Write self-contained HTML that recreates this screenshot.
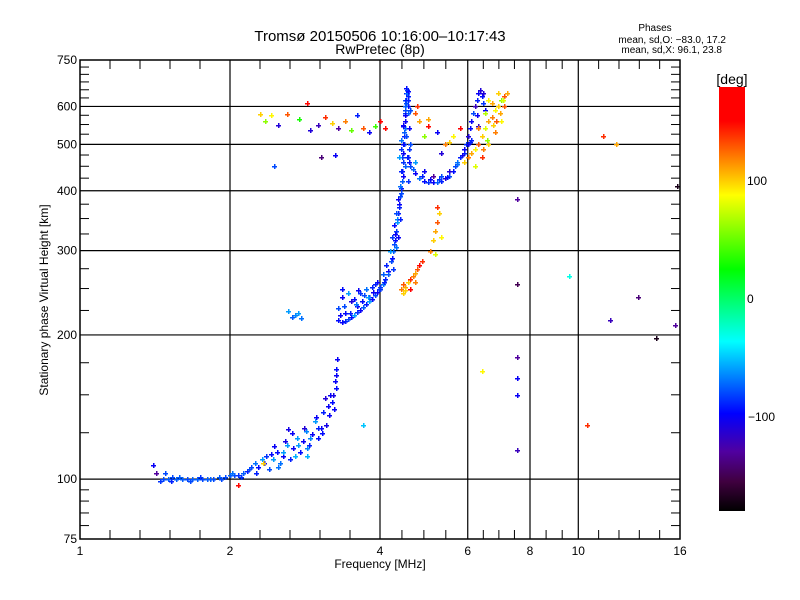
<!DOCTYPE html>
<html><head><meta charset="utf-8"><style>
body{margin:0;background:#fff;}
svg{display:block;font-family:"Liberation Sans",sans-serif;}
</style></head><body>
<svg id="chart" width="800" height="600" viewBox="0 0 800 600">
<defs>
<linearGradient id="cbar" x1="0" y1="0" x2="0" y2="1">
<stop offset="0" stop-color="#ff0000"/><stop offset="0.08" stop-color="#ff0000"/>
<stop offset="0.19" stop-color="#ffa000"/><stop offset="0.255" stop-color="#ffff00"/>
<stop offset="0.43" stop-color="#00ff00"/><stop offset="0.6" stop-color="#00ffff"/>
<stop offset="0.77" stop-color="#0000ff"/><stop offset="0.86" stop-color="#5000a0"/>
<stop offset="0.93" stop-color="#400040"/><stop offset="1" stop-color="#000000"/>
</linearGradient>
</defs>
<text x="380" y="41" font-size="15" text-anchor="middle">Tromsø 20150506 10:16:00–10:17:43</text>
<text x="380" y="54" font-size="14" text-anchor="middle">RwPretec (8p)</text>
<text x="655" y="31" font-size="10" text-anchor="middle">Phases</text>
<text x="726" y="43" font-size="10" text-anchor="end">mean, sd,O: −83.0, 17.2</text>
<text x="722" y="53" font-size="10" text-anchor="end">mean, sd,X:  96.1, 23.8</text>
<g id="grid"></g>
<g id="marks"></g>
<g id="axes"></g>
<text x="380" y="568" font-size="12" text-anchor="middle">Frequency [MHz]</text>
<text transform="translate(48,300) rotate(-90)" font-size="12" text-anchor="middle">Stationary phase Virtual Height [km]</text>
<rect x="719" y="87" width="26" height="424" fill="url(#cbar)"/>
<text x="732" y="84" font-size="14" text-anchor="middle">[deg]</text>
<g id="cbticks"></g>
</svg>
<script>
// axis tick data
const xMajor = [1,2,4,6,8,10,16];
const yMajor = [75,100,200,300,400,500,600,750];
const yMinor = [80,85,90,95,125,150,175,225,250,275,325,350,375,425,450,475,525,550,575,625,650,675,700,725];
const cbTicks = [100,0,-100];

// Series A: lower trace
const aF = [1.45,1.47,1.50,1.53,1.56,1.60,1.64,1.68,1.72,1.76,1.80,1.85,1.90,1.95,2.00,2.04,2.08,2.12,2.16,2.20,2.24,2.28,2.32,2.36,2.40,2.44,2.48,2.52,2.56,2.60,2.64,2.68,2.72,2.76,2.80,2.84,2.88,2.92,2.96,3.00,3.04,3.08,3.12,3.16,3.20,3.24,3.26,3.27,3.28,2.62,2.70,2.78,2.66,2.74,1.48,1.52,2.86,3.18];
const aH = [99,100,100,101,100,100,100,100,100,100,100,100,101,101,102,102,102,103,104,106,108,106,110,112,105,110,114,108,112,118,110,116,122,114,120,126,118,124,132,122,128,138,130,136,145,140,155,165,178,224,220,217,218,222,103,99,112,150];
const aP = [-85,-80,-75,-80,-75,-75,-80,-75,-75,-80,-75,-80,-75,-80,-75,-80,-85,-75,-90,-80,-70,-95,-60,-85,-80,-60,-95,-70,-100,-60,-90,-100,-60,-95,-100,-65,-90,-100,-60,-95,-100,-90,-105,-100,-95,-100,-95,-100,-100,-60,-65,-70,-75,-60,-80,-90,-55,-100];

// Series A2: extra spread around lower trace
const a2F = [1.58,1.66,1.74,1.82,1.92,2.02,2.10,2.18,2.26,2.34,2.42,2.50,2.58,2.66,2.74,2.82,2.90,2.98,3.06,3.14,3.22,2.55,2.70,2.85,3.00,3.10,3.25,3.26,2.45,2.62];
const a2H = [101,99,101,100,100,103,101,105,103,108,113,106,120,125,118,128,122,135,125,142,150,114,112,116,128,148,160,170,117,127];
const a2P = [-75,-80,-85,-75,-80,-70,-85,-80,-90,-100,-95,-70,-105,-100,-60,-110,-65,-100,-95,-100,-105,-60,-55,-65,-90,-110,-100,-95,-100,-105];

// Series B: F-layer O-mode trace
const bF = [3.30,3.35,3.40,3.45,3.50,3.55,3.60,3.65,3.70,3.75,3.80,3.85,3.90,3.95,4.00,4.05,4.10,4.15,4.20,4.25,4.28,4.30,4.32,4.34,4.36,4.38,4.40,4.42,4.43,4.44,4.45,4.46,4.47,4.48,4.48,4.49,4.50,4.50,4.51,4.52,
3.30,3.35,3.45,3.55,3.65,3.75,3.85,3.95,4.05,4.12,4.18,4.22,4.26,4.30,4.34,4.38,4.40,4.42,4.44,4.46,4.48,4.50,4.52,4.54,4.56,
4.56,4.58,4.60,4.58,4.56,4.55,4.54,4.52,3.40,3.60,3.80,4.00];
const bH = [215,213,214,216,218,220,223,226,229,232,235,238,242,246,250,255,262,272,285,300,315,330,345,360,375,390,405,420,440,460,480,500,520,540,560,580,600,620,640,655,
228,240,245,238,245,250,252,258,268,280,300,320,340,360,385,410,440,470,500,530,560,590,620,640,600,
420,460,500,540,580,620,650,520,222,230,240,252];
const bP = [-95,-100,-90,-80,-95,-60,-85,-100,-75,-90,-60,-95,-80,-100,-85,-70,-90,-100,-80,-75,-95,-85,-60,-90,-100,-80,-90,-75,-95,-85,-100,-80,-90,-70,-95,-85,-100,-80,-90,-95,
-80,-100,-60,-95,-85,-70,-90,-100,-75,-90,-60,-85,-95,-80,-100,-70,-90,-85,-95,-75,-100,-80,-90,-70,-95,
-85,-95,-80,-100,-75,-90,-85,-80,-95,-100,-90,-85];

// Series B2: extra thickening of F trace
const b2F = [3.32,3.38,3.48,3.58,3.68,3.78,3.88,3.98,4.08,4.16,4.22,4.26,4.29,4.33,4.37,4.41,4.45,4.49,4.53,4.57,4.40,4.44,4.48,4.52,4.56,4.36,4.40,4.45,4.50,4.55,4.60,4.38,4.34,4.30,4.24,3.36,3.50,3.62,3.72,3.90];
const b2H = [220,230,222,232,236,240,246,250,258,268,290,310,325,350,370,395,430,450,470,490,510,545,575,610,630,470,490,550,600,645,590,350,320,305,275,250,235,248,242,255];
const b2P = [-100,-80,-90,-70,-95,-60,-100,-85,-90,-75,-95,-80,-100,-65,-90,-80,-100,-75,-90,-85,-70,-95,-100,-80,-90,-60,-85,-100,-75,-95,-80,-90,-100,-70,-85,-95,-110,-100,-80,-90];

// Series C: X-mode hook (blue)
const cF = [4.55,4.60,4.70,4.80,4.90,5.00,5.10,5.20,5.30,5.40,5.50,5.60,5.70,5.80,5.90,5.95,6.00,6.05,6.10,6.15,6.20,6.25,6.30,6.35,6.40,6.45,6.50,4.7,4.9,5.1,5.3,5.5,5.7,5.9,6.1,6.3,4.65,4.85,5.05,5.25,5.45,5.65,5.85,6.05,6.25,6.45];
const cH = [470,450,435,425,420,418,417,418,420,425,430,440,455,470,480,500,520,540,560,580,600,620,640,650,630,610,590,460,440,430,430,440,460,490,510,545,445,430,424,424,428,450,475,505,575,640];
const cP = [-90,-80,-100,-70,-95,-85,-100,-75,-90,-110,-80,-95,-70,-100,-90,-85,-110,-95,-100,-80,-120,-90,-100,-110,-95,-85,-100,-60,-100,-130,-80,-110,-70,-100,-90,-120,-75,-90,-100,-85,-95,-80,-105,-90,-100,-110];

// Series D: X-mode upper (warm colours)
const dF = [5.9,6.0,6.1,6.2,6.3,6.4,6.5,6.6,6.7,6.8,6.9,7.0,7.1,7.2,6.2,6.4,6.6,6.8,7.0,6.5,6.7,6.9,7.1,5.8,6.0,6.3,6.6,6.55,6.75,6.95,7.05,6.85,6.45];
const dH = [460,470,480,490,500,520,540,560,570,590,600,620,630,640,450,470,500,530,560,580,610,640,600,470,500,540,620,510,550,580,620,560,490];
const dP = [100,120,110,90,130,100,80,110,120,90,100,60,130,110,80,140,100,120,90,70,110,100,130,-90,-100,120,90,60,100,110,80,130,120];

// Series E: scattered top band
const eF = [2.3,2.35,2.42,2.5,2.6,2.75,2.85,3.0,3.1,3.2,3.3,3.4,3.5,3.6,3.7,3.8,3.9,4.0,4.1,3.05,3.25,2.45,2.9,4.7,4.8,4.9,5.0,5.2,5.4,5.6,5.8,5.0,5.3,4.75,5.5];
const eH = [578,560,575,548,578,565,610,550,570,555,540,560,535,575,540,530,545,560,540,470,475,450,535,580,560,520,545,530,500,520,540,565,480,600,505];
const eP = [100,60,90,-110,130,30,150,-120,140,100,-130,120,50,-90,130,-100,40,170,150,-140,-100,-80,-110,130,110,60,150,-100,120,90,170,110,-110,140,100];

// Series F: orange cluster
const fF = [4.40,4.45,4.50,4.55,4.60,4.65,4.70,4.75,4.80,4.85,4.50,4.60,4.70,4.45];
const fH = [250,255,252,258,262,266,270,275,280,285,248,250,258,245];
const fP = [120,130,110,100,140,120,110,130,150,140,100,170,120,100];

// Series G: yellow strip
const gF = [5.05,5.10,5.15,5.20,5.25,5.30,5.20,5.15];
const gH = [300,315,330,345,360,320,370,295];
const gP = [120,100,110,130,100,90,140,80];

// Series H: isolated points
const hF = [7.55,7.55,7.55,7.55,7.55,7.55,6.4,9.6,11.2,11.9,11.6,13.2,14.3,15.6,15.8,10.4,3.7,2.33,2.08,1.4,1.42];
const hH = [385,255,180,163,150,115,168,265,520,500,215,240,197,210,410,130,130,108,97,107,103];
const hP = [-130,-150,-130,-100,-100,-120,90,-30,140,110,-120,-140,-170,-130,-170,140,-50,100,150,-100,-130];

const X0=80, X1=680, Y0=539, Y1=60;
const fmin=1, fmax=16, hmin=75, hmax=750;
function xs(f){return X0+(X1-X0)*Math.log(f/fmin)/Math.log(fmax/fmin);}
function ys(h){return Y0-(Y0-Y1)*Math.log(h/hmin)/Math.log(hmax/hmin);}
const stops=[[0,[255,0,0]],[0.08,[255,0,0]],[0.19,[255,160,0]],[0.255,[255,255,0]],[0.43,[0,255,0]],[0.6,[0,255,255]],[0.77,[0,0,255]],[0.86,[80,0,160]],[0.93,[64,0,64]],[1,[0,0,0]]];
function col(p){
  let t=(180-p)/360; t=Math.max(0,Math.min(1,t));
  for(let i=1;i<stops.length;i++){
    if(t<=stops[i][0]){
      const a=stops[i-1],b=stops[i];const u=(t-a[0])/(b[0]-a[0]||1);
      const c=a[1].map((v,k)=>Math.round(v+(b[1][k]-v)*u));
      return 'rgb('+c.join(',')+')';
    }
  }
  return '#000';
}
const NS='http://www.w3.org/2000/svg';
function mk(tag,attrs,parent){const e=document.createElementNS(NS,tag);for(const k in attrs)e.setAttribute(k,attrs[k]);parent.appendChild(e);return e;}

const grid=document.getElementById('grid');
const axes=document.getElementById('axes');
xMajor.slice(1,-1).forEach(f=>{
  const l=mk('line',{x1:xs(f),x2:xs(f),y1:Y1,y2:Y0,stroke:'#000','stroke-width':1.2},grid);
  
  
});
yMajor.slice(1,-1).forEach(h=>{
  const l=mk('line',{x1:X0,x2:X1,y1:ys(h),y2:ys(h),stroke:'#000','stroke-width':1.2},grid);
  
  
});
const fr=mk('rect',{x:X0,y:Y1,width:X1-X0,height:Y0-Y1,fill:'none',stroke:'#000','stroke-width':1.5},axes);


for(let i=0;i<xMajor.length-1;i++){
  const a=xs(xMajor[i]),b=xs(xMajor[i+1]);
  const n = (b-a)>100?5:(b-a)>55?4:(b-a)>45?3:5;
  for(let k=1;k<n;k++){
    const x=a+(b-a)*k/n;
    const t1=mk('line',{x1:x,x2:x,y1:Y0,y2:Y0-9,stroke:'#000'},axes);
    
    
    const t2=mk('line',{x1:x,x2:x,y1:Y1,y2:Y1+9,stroke:'#000'},axes);
    
    
  }
}
xMajor.forEach(f=>{
  const t=mk('text',{x:xs(f),y:555,'font-size':12,'text-anchor':'middle'},axes);
  t.textContent=f;
  
  
});
yMinor.forEach(h=>{
  const t1=mk('line',{x1:X0,x2:X0+9,y1:ys(h),y2:ys(h),stroke:'#000'},axes);
  
  
  const t2=mk('line',{x1:X1,x2:X1-9,y1:ys(h),y2:ys(h),stroke:'#000'},axes);
  
  
});
yMajor.forEach(h=>{
  const t=mk('text',{x:X0-3,y:ys(h)+4,'font-size':12,'text-anchor':'end'},axes);
  t.textContent=h;
  
  
});
const marks=document.getElementById('marks');
const series=[[aF,aH,aP,'trace-e-region'],[a2F,a2H,a2P,'trace-e-region-spread'],[bF,bH,bP,'trace-f-o-mode'],[b2F,b2H,b2P,'trace-f-o-mode-spread'],[cF,cH,cP,'trace-f-x-hook'],[dF,dH,dP,'trace-f-x-upper'],[eF,eH,eP,'scatter-top-band'],[fF,fH,fP,'cluster-orange'],[gF,gH,gP,'strip-yellow'],[hF,hH,hP,'isolated-point']];
series.forEach(s=>{
  const F=s[0],H=s[1],P=s[2];
  for(let i=0;i<F.length;i++){
    const x=Math.round(xs(F[i]))+0.5, y=Math.round(ys(H[i]))+0.5;
    const r = 2.5;
    const d='M'+(x-r)+' '+y+'h'+(2*r)+'M'+x+' '+(y-r)+'v'+(2*r);
    const p=mk('path',{d:d,stroke:col(P[i]),'stroke-width':1.5,fill:'none','shape-rendering':'crispEdges'},marks);
    
    
  }
});
const cb=document.getElementById('cbticks');
cbTicks.forEach(v=>{
  const y=87+424*(180-v)/360;
  const t=mk('text',{x:v<0?748:747,y:y+4,'font-size':12},cb);
  t.textContent=v<0?'−'+Math.abs(v):String(v);
  
  
});
</script>
</body></html>
